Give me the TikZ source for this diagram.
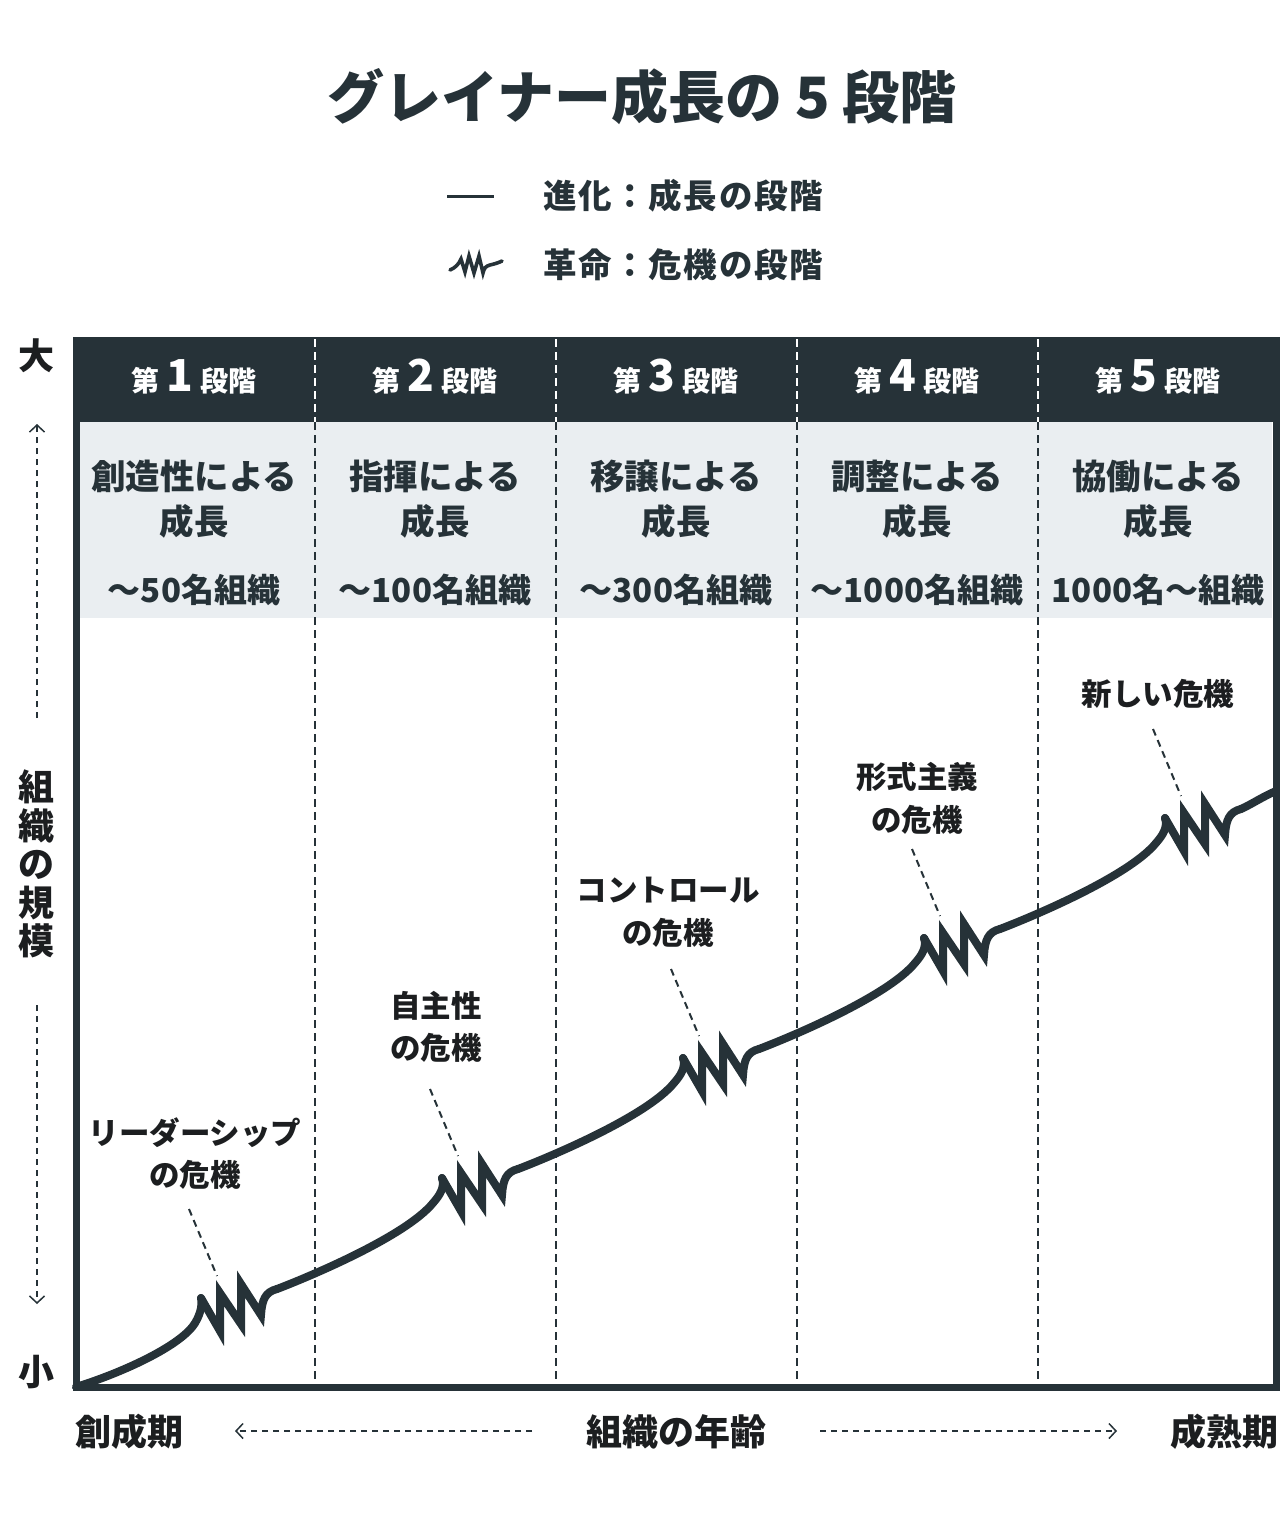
\documentclass[tikz,border=0pt]{standalone}
\usepackage{fontspec}
\setmainfont{Noto Sans CJK JP}
\usetikzlibrary{arrows.meta}
\definecolor{ink}{HTML}{263238}
\definecolor{band}{HTML}{EAEEF1}
\definecolor{lbl}{HTML}{1C1E20}
\tikzset{
  t/.style={inner sep=0pt},
  fsz/.code={%
    \pgfmathsetmacro\rsTH{0.83*#1}%
    \pgfmathsetmacro\rsTD{0.07*#1}%
    \edef\rsTmp{\noexpand\tikzset{font=\noexpand\fontsize{#1}{#1}\noexpand\selectfont\noexpand\bfseries,
      text height=\rsTH pt, text depth=\rsTD pt}}%
    \rsTmp},
  curve/.style={draw=ink, line width=8pt, line cap=round},
  zig/.style={draw=ink, line width=8pt, line cap=round, line join=miter, miter limit=10},
  leader/.style={draw=ink, line width=2pt, dash pattern=on 7pt off 5pt},
  divider/.style={line width=1.8pt, dash pattern=on 8pt off 5pt},
  axarrow/.style={draw=ink, line width=1.5pt, dash pattern=on 6pt off 5pt, -{Straight Barb[length=7pt,width=15pt]}},
  stagehead/.style={t, fsz=28, text=white},
  bandtext/.style={t, fsz=34.5, text=ink},
  bandnum/.style={t, fsz=33, text=ink},
  crisis/.style={t, fsz=30.5, text=lbl},
  axis/.style={t, fsz=36, text=lbl},
  legend/.style={t, fsz=33.5, text=ink, anchor=west},
}
\begin{document}
\begin{tikzpicture}[x=1pt,y=-1pt]
\useasboundingbox (0,0) rectangle (1280,1537);
\fill[white] (0,0) rectangle (1280,1537);

% title
\node[t, fsz=57, text=ink] (title) at (642,97) {グレイナー成長の 5 段階};

% legend
\coordinate (l1a) at (447,196);
\coordinate (l1b) at (494,196);
\draw[ink, line width=3pt] (l1a) -- (l1b);
\node[legend] (leg1) at (543,196) {\addfontfeatures{LetterSpace=5}進化：成長の段階};
\draw[ink, line width=3.6pt, line cap=round, line join=miter]
  (450,270) .. controls (455,268) and (459,264) .. (461,259)
  -- (465,272) -- (469,256) -- (474,273) -- (479,256) -- (483,273)
  .. controls (484,268) and (486,266) .. (490,265)
  .. controls (494,264) and (498,263) .. (502,261);
\node[legend] (leg2) at (543,265) {\addfontfeatures{LetterSpace=5}革命：危機の段階};

% bands
\fill[ink] (73,337) rectangle (1280,422);
\fill[band] (80,422) rectangle (1272,618);

% dividers
\foreach \x in {315,556,797,1038}{
  \draw[divider, white] (\x,339) -- (\x,422);
  \draw[divider, ink] (\x,422) -- (\x,1384);
}

% stage headers
\foreach \cx/\n in {194/1,435/2,676/3,917/4,1158/5}{
  \node[stagehead] (st\n) at (\cx,381) {第\hspace{7pt}{\fontsize{44}{44}\selectfont \n}\hspace{7pt}段階};
}
% band texts
\node[bandtext] (g1a) at (194,476) {創造性による};
\node[bandtext] (g1b) at (194,521) {成長};
\node[bandnum] (g1c) at (194,590) {〜50名組織};
\node[bandtext] (g2a) at (435,476) {指揮による};
\node[bandtext] (g2b) at (435,521) {成長};
\node[bandnum] (g2c) at (435,590) {〜100名組織};
\node[bandtext] (g3a) at (676,476) {移譲による};
\node[bandtext] (g3b) at (676,521) {成長};
\node[bandnum] (g3c) at (676,590) {〜300名組織};
\node[bandtext] (g4a) at (917,476) {調整による};
\node[bandtext] (g4b) at (917,521) {成長};
\node[bandnum] (g4c) at (917,590) {〜1000名組織};
\node[bandtext] (g5a) at (1158,476) {協働による};
\node[bandtext] (g5b) at (1158,521) {成長};
\node[bandnum] (g5c) at (1158,590) {1000名〜組織};

% crisis labels
\node[crisis] (c1a) at (195,1133) {リーダーシップ};
\node[crisis] (c1b) at (195,1175) {の危機};
\node[crisis] (c2a) at (436,1006) {自主性};
\node[crisis] (c2b) at (436,1048) {の危機};
\node[crisis] (c3a) at (668,890) {コントロール};
\node[crisis] (c3b) at (668,933) {の危機};
\node[crisis] (c4a) at (917,777) {形式主義};
\node[crisis] (c4b) at (917,820) {の危機};
\node[crisis] (c5a) at (1158,694) {新しい危機};

% growth curve
\draw[curve] (76,1387) .. controls (121,1373) and (176,1348) .. (193,1326)
  .. controls (199,1318) and (203,1306) .. (201,1298);
\foreach \k in {0,...,4}{
  \begin{scope}[shift={({201+241*\k},{1298-120*\k})}]
    \draw[leader] (-12,-89) -- (16,-22);
    \draw[zig] (0,0) -- (19,33) -- (19,-5) -- (40,26) -- (40,-14) -- (60,17)
      .. controls (61,2) and (64,-6) .. (76,-9);
    \ifnum\k<4
      \draw[curve] (76,-9) .. controls (110,-22) and (205,-62) .. (232,-95)
        .. controls (239,-103) and (244,-111) .. (241,-120);
    \fi
  \end{scope}
}
\draw[curve] (1241,809) .. controls (1252,804) and (1262,797) .. (1276,791);

% frame
\draw[ink, line width=7pt, line join=miter] (76,337) -- (76,1387) -- (1276,1387) -- (1276,337);

% axes
\node[axis] (big) at (37,356) {大};
\node[axis] (small) at (37,1372) {小};
\foreach \ch [count=\i from 0] in {組,織,の,規,模}{
  \node[axis] (v\i) at (37,{787+38.5*\i}) {\ch};
}
\coordinate (upA) at (37,718);
\coordinate (upB) at (37,424);
\coordinate (dnA) at (37,1005);
\coordinate (dnB) at (37,1304);
\draw[axarrow] (upA) -- (upB);
\draw[axarrow] (dnA) -- (dnB);

\node[axis, anchor=west] (young) at (75,1432) {創成期};
\node[axis] (age) at (676,1432) {組織の年齢};
\node[axis, anchor=east] (mature) at (1279,1432) {成熟期};
\coordinate (lA) at (532,1431);
\coordinate (lB) at (235,1431);
\coordinate (rA) at (820,1431);
\coordinate (rB) at (1117,1431);
\draw[axarrow] (lA) -- (lB);
\draw[axarrow] (rA) -- (rB);
\end{tikzpicture}
\end{document}
